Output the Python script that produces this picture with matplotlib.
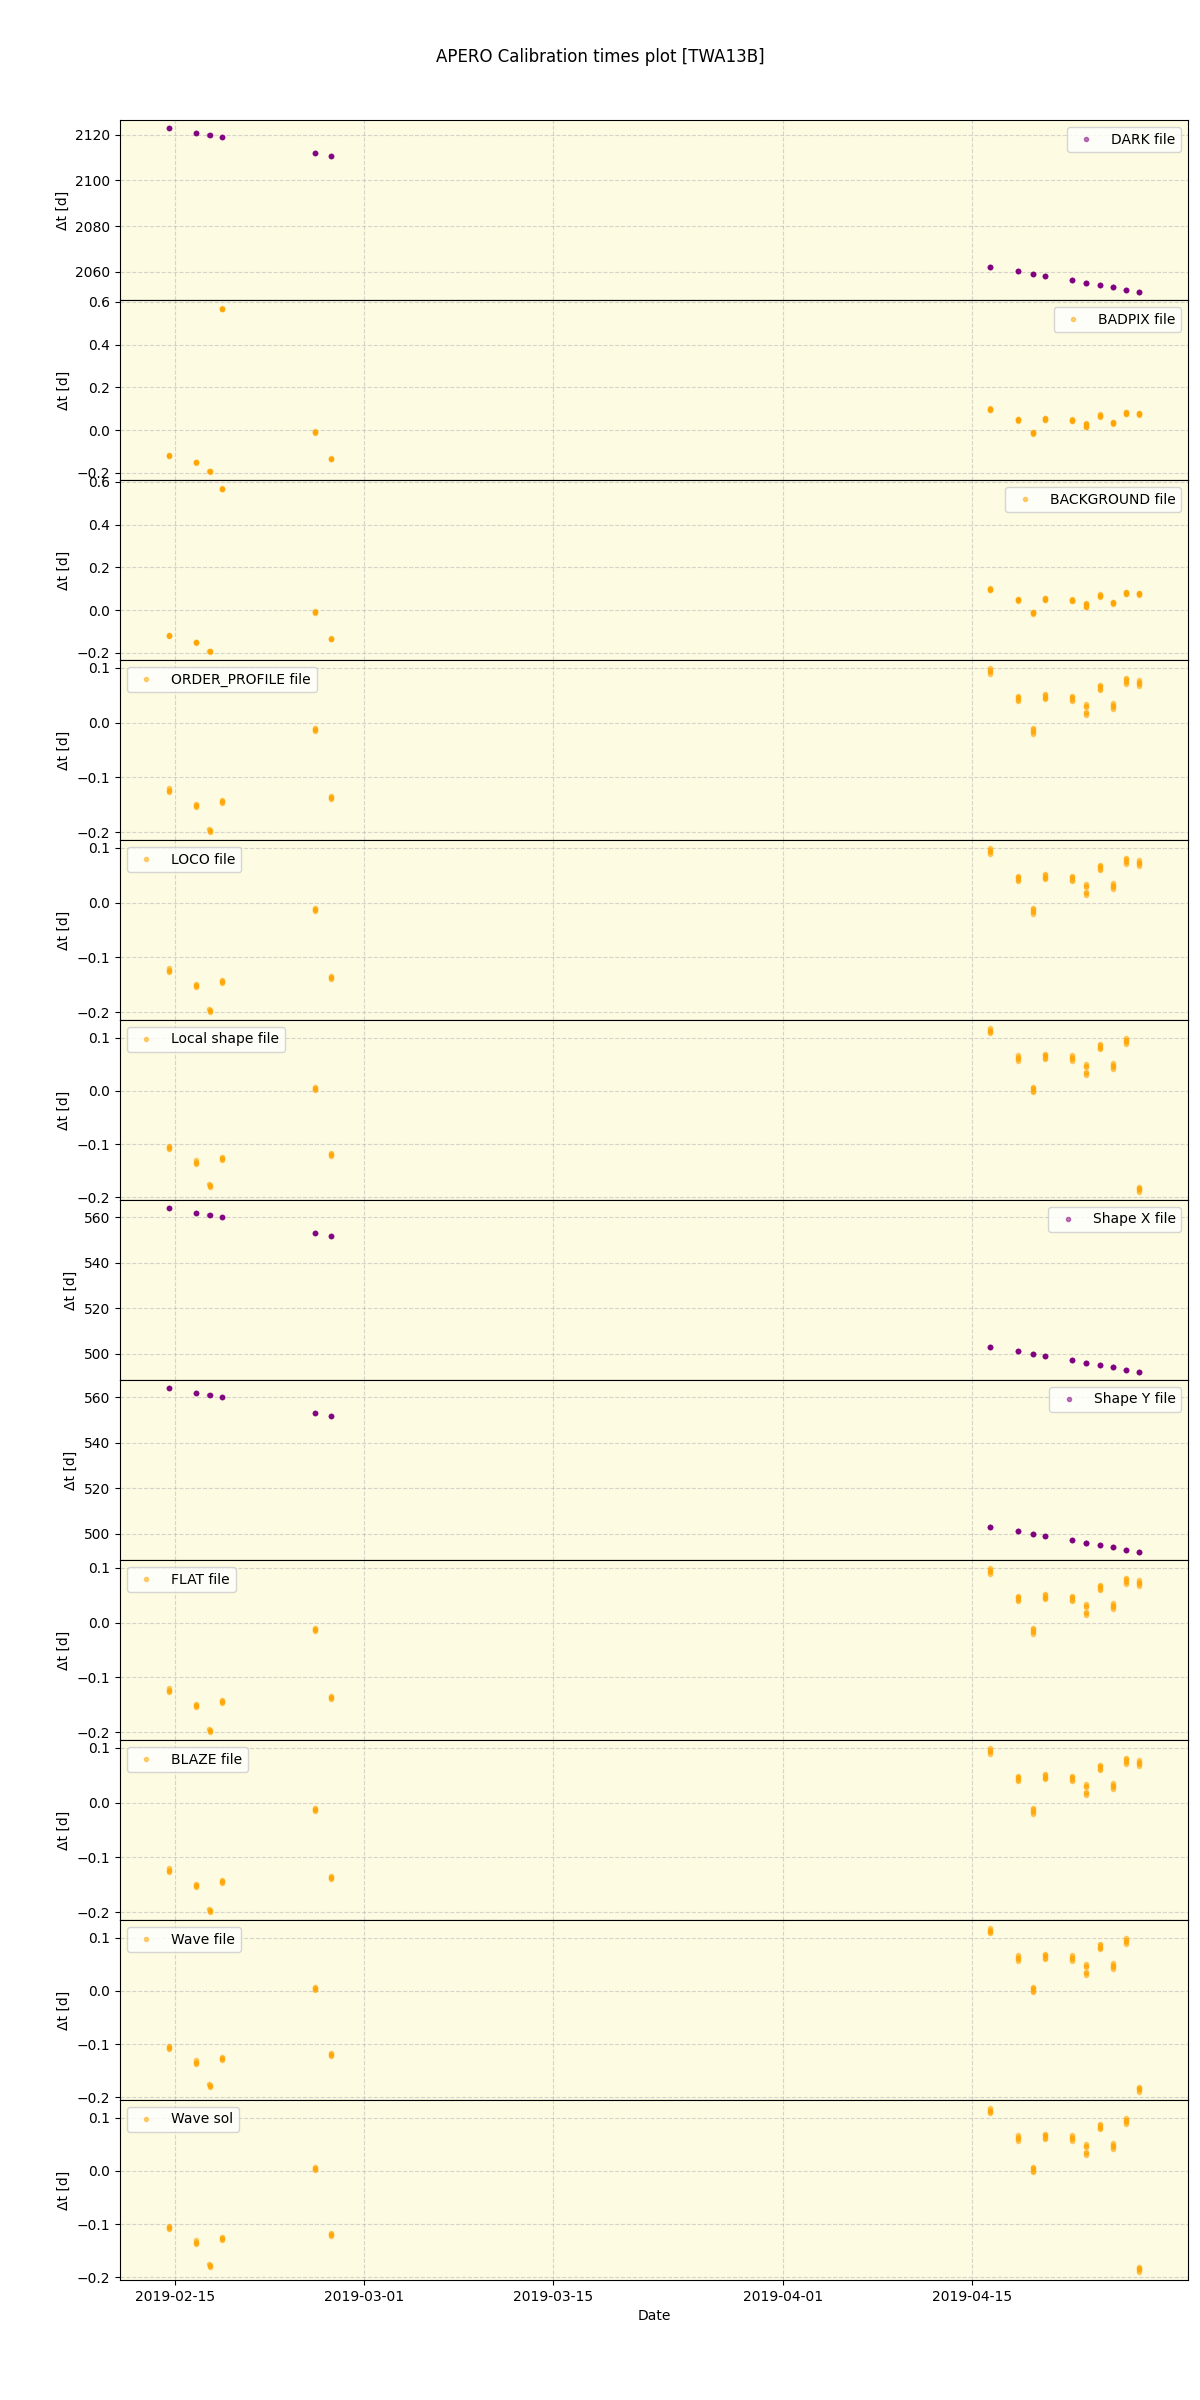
import numpy as np
import pandas as pd
import matplotlib
matplotlib.use('Agg')
import matplotlib.pyplot as plt

# first exposure of each observing night (UTC)
night_times = ['2019-02-14 12:43', '2019-02-16 12:43', '2019-02-17 13:26',
               '2019-02-18 12:00', '2019-02-25 09:22', '2019-02-26 12:43',
               '2019-04-16 08:10', '2019-04-18 09:50', '2019-04-19 11:31',
               '2019-04-20 09:50', '2019-04-22 09:50', '2019-04-23 10:48',
               '2019-04-24 10:34', '2019-04-25 10:48', '2019-04-26 09:50',
               '2019-04-27 09:07']

# exposure offsets inside a night [days]
exp_short = [-0.003, -0.001, 0.001, 0.003]
exp_long = [-0.005, -0.0025, 0.0, 0.0025, 0.005]
exp_split = [-0.010, -0.007, -0.004, 0.004, 0.007, 0.010]
night_exposures = [exp_short] * 6 + [exp_long] * 5 + [exp_split] + [exp_long] * 4

# delta t (night centre) per calibration type [days]
dark_dt = [2122.9, 2120.8, 2119.9, 2119.0, 2112.0, 2110.8,
           2062.2, 2060.3, 2059.1, 2058.2, 2056.4, 2055.2,
           2054.2, 2053.3, 2052.1, 2051.2]
badpix_dt = [-0.119, -0.150, -0.192, 0.567, -0.009, -0.134,
             0.098, 0.048, -0.013, 0.052, 0.047, 0.023,
             0.068, 0.034, 0.080, 0.076]
order_dt = [-0.123, -0.151, -0.196, -0.144, -0.013, -0.136,
            0.094, 0.044, -0.015, 0.047, 0.044, 0.024,
            0.064, 0.030, 0.076, 0.072]
shape_local_dt = [-0.106, -0.134, -0.178, -0.127, 0.005, -0.119,
                  0.113, 0.062, 0.003, 0.065, 0.062, 0.040,
                  0.083, 0.047, 0.094, -0.185]
shapex_dt = [563.9, 561.8, 560.9, 560.0, 553.0, 551.7,
             503.0, 501.2, 500.0, 499.1, 497.4, 496.1,
             495.2, 494.3, 493.0, 492.1]
shapey_dt = [564.0, 561.8, 560.9, 560.0, 553.0, 551.7,
             503.1, 501.2, 500.0, 499.1, 497.4, 496.1,
             495.2, 494.3, 493.0, 492.1]

panels = [
    ('DARK file', dark_dt, 'purple', 'upper right'),
    ('BADPIX file', badpix_dt, 'orange', 'upper right'),
    ('BACKGROUND file', badpix_dt, 'orange', 'upper right'),
    ('ORDER_PROFILE file', order_dt, 'orange', 'upper left'),
    ('LOCO file', order_dt, 'orange', 'upper left'),
    ('Local shape file', shape_local_dt, 'orange', 'upper left'),
    ('Shape X file', shapex_dt, 'purple', 'upper right'),
    ('Shape Y file', shapey_dt, 'purple', 'upper right'),
    ('FLAT file', order_dt, 'orange', 'upper left'),
    ('BLAZE file', order_dt, 'orange', 'upper left'),
    ('Wave file', shape_local_dt, 'orange', 'upper left'),
    ('Wave sol', shape_local_dt, 'orange', 'upper left'),
]

fig, axes = plt.subplots(len(panels), 1, figsize=(12, 24), sharex=True)
fig.subplots_adjust(left=0.1, right=0.99, top=0.95, bottom=0.05, hspace=0)

nights = pd.to_datetime(night_times)

for ax, (label, dts, col, loc) in zip(axes, panels):
    xs, ys = [], []
    for t0, dt0, offs in zip(nights, dts, night_exposures):
        for off in offs:
            xs.append(t0 + pd.Timedelta(days=off))
            ys.append(dt0 - off)
    ax.plot(xs, ys, 'o', color=col, ms=3, alpha=0.5, label=label)
    ax.set_facecolor('#fdfbe2')
    ax.grid(True, linestyle='--', alpha=0.5)
    ax.set_ylabel('Δt [d]')
    ax.legend(loc=loc)

axes[-1].set_xlabel('Date')
fig.suptitle('APERO Calibration times plot [TWA13B]')

plt.savefig('out.png', dpi=100)
